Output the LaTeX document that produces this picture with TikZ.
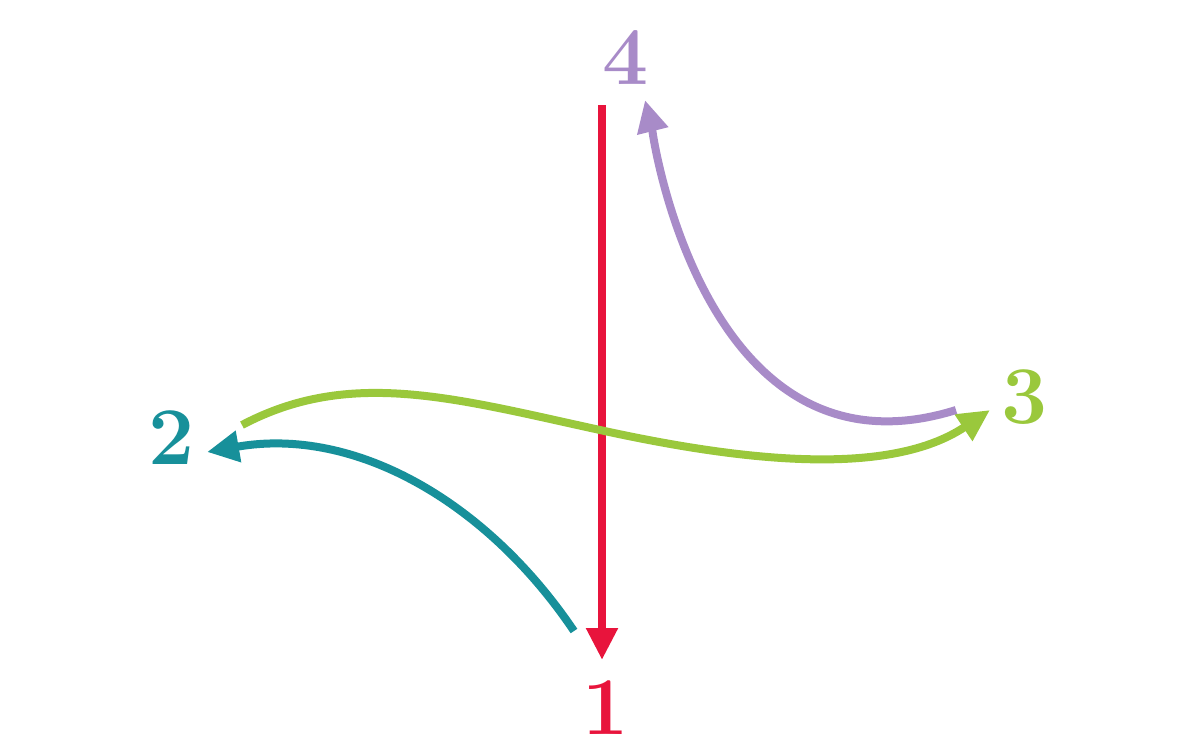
\documentclass[tikz,border=0pt]{standalone}
\usetikzlibrary{arrows.meta}
\definecolor{cred}{HTML}{E8143C}
\definecolor{cteal}{HTML}{17909A}
\definecolor{cgreen}{HTML}{9AC83C}
\definecolor{cpurple}{HTML}{A88BC8}
\tikzset{
  num/.style={inner sep=0pt, font=\fontsize{41}{41}\selectfont\bfseries},
  conn/.style={line width=4pt, -{Triangle[length=16pt,width=15pt]}},
}
\begin{document}
\begin{tikzpicture}[x=0.5pt,y=-0.5pt]
\useasboundingbox (0,0) rectangle (1192,752);
\node[num, text=cred] (n1) at (606,708) {1};
\node[num, text=cteal] (n2) at (172,438) {2};
\node[num, text=cgreen] (n3) at (1025,397) {3};
\node[num, text=cpurple] (n4) at (626,58) {4};
% free ends
\coordinate (r0) at (602,105);
\coordinate (r1) at (602,660);
\coordinate (t0) at (574,631);
\coordinate (t1) at (207,452);
\coordinate (g0) at (242,425);
\coordinate (gm) at (600,430);
\coordinate (g1) at (990,410);
\coordinate (p0) at (956,410);
\coordinate (p1) at (645,100);
\draw[conn, cred] (r0) -- (r1);
\draw[conn, cteal] (t0) .. controls (487,502) and (355,426) .. (t1);
\draw[conn, cgreen] (g0) .. controls (350,368) and (453,398) .. (gm)
   .. controls (746,462) and (890,477) .. (g1);
\draw[conn, cpurple] (p0) .. controls (700,490) and (650,120) .. (p1);
\end{tikzpicture}
\end{document}
